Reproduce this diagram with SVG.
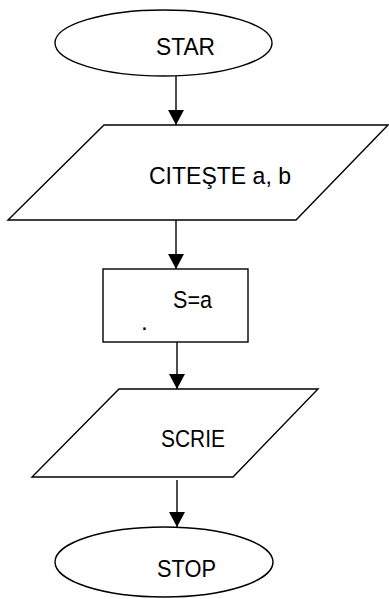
<svg xmlns="http://www.w3.org/2000/svg" width="389" height="599" viewBox="0 0 389 599">
<style>
.s{fill:#fff;stroke:#000;stroke-width:1.4}
.t{font-family:"Liberation Sans",Arial,sans-serif;font-size:24.5px;fill:#000}
.c{stroke:#000;stroke-width:1.4;fill:none;marker-end:url(#ah)}
</style>
<defs>
<marker id="ah" markerUnits="userSpaceOnUse" markerWidth="16" markerHeight="17" refX="15" refY="8" orient="auto">
<path d="M0,0 L15,8 L0,16 Z" fill="#000"/>
</marker>
</defs>
<rect width="389" height="599" fill="#fff"/>
<g id="connectors">
<line class="c" x1="176" y1="76" x2="176" y2="125"/>
<line class="c" x1="176" y1="220" x2="176" y2="269"/>
<line class="c" x1="177" y1="342" x2="177" y2="389"/>
<line class="c" x1="177" y1="480" x2="177" y2="527"/>
</g>
<g id="start">
<ellipse class="s" cx="163.5" cy="43" rx="108.5" ry="33"/>
<text class="t" x="156" y="55" textLength="59" lengthAdjust="spacingAndGlyphs">STAR</text>
</g>
<g id="read">
<polygon class="s" points="104,125 388,125 296,220 8,220"/>
<text class="t" x="149" y="184" textLength="142" lengthAdjust="spacingAndGlyphs">CITEŞTE a, b</text>
</g>
<g id="assign">
<rect class="s" x="103" y="269" width="145" height="73"/>
<text class="t" x="173" y="308" textLength="39" lengthAdjust="spacingAndGlyphs">S=a</text>
<text class="t" x="141" y="330">.</text>
</g>
<g id="write">
<polygon class="s" points="119,389 318,389 233,477 32,477"/>
<text class="t" x="161" y="447" textLength="64" lengthAdjust="spacingAndGlyphs">SCRIE</text>
</g>
<g id="stop">
<ellipse class="s" cx="164" cy="562" rx="109" ry="35"/>
<text class="t" x="157" y="577" textLength="59" lengthAdjust="spacingAndGlyphs">STOP</text>
</g>
</svg>
